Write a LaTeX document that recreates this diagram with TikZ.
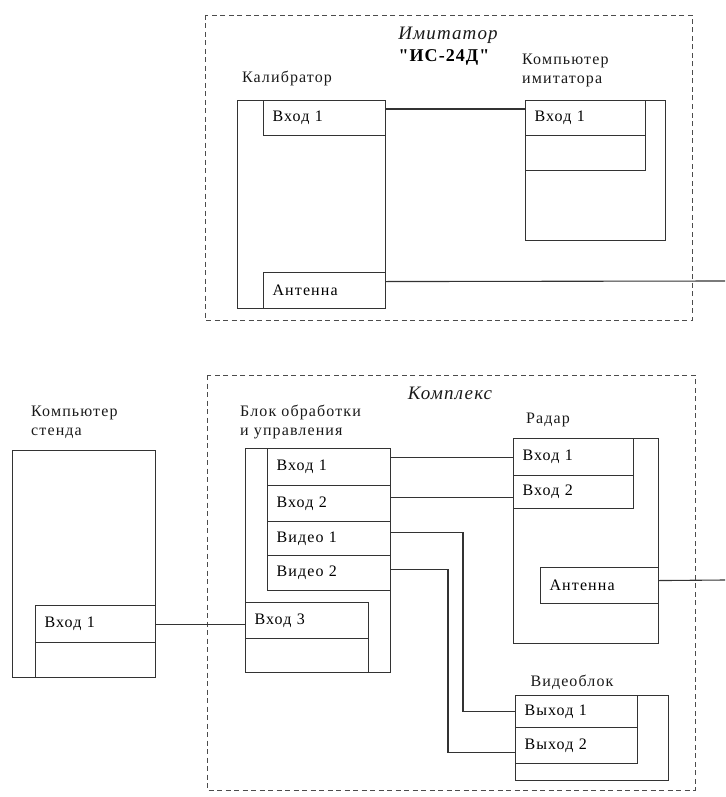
\documentclass[tikz,border=0pt]{standalone}
\usepackage{fontspec}
\setmainfont{Liberation Serif}[LetterSpace=7]
\newfontfamily\titlefont{Liberation Serif}[LetterSpace=6]
\begin{document}
\begin{tikzpicture}[x=1pt,y=-1pt,
  ln/.style={draw=black!80, line width=1.1pt},
  frame/.style 2 args={ln, anchor=north west, inner sep=0pt, minimum width=#1, minimum height=#2},
  cell/.style 2 args={ln, anchor=north west, inner ysep=0pt, inner xsep=9pt, text width=#1, minimum height=#2, align=left, font=\fontsize{16}{19}\selectfont},
  lbl/.style={inner sep=0pt, font=\fontsize{16}{19}\selectfont, text=black!90},
  ttl/.style={inner sep=0pt, font=\titlefont\fontsize{19}{22}\selectfont\itshape, text=black!90},
  grp/.style={draw=black!70, line width=0.9pt, dash pattern=on 5pt off 3.5pt}
]
\useasboundingbox (0,0) rectangle (725,797);

% group frames
\draw[grp] (205,15) rectangle (692,320);
\draw[grp] (207,375) rectangle (695,790);

% titles
\node[ttl] (imt) at (448,35) {Имитатор};
\node[inner sep=0pt, font=\titlefont\fontsize{18}{21}\selectfont\bfseries] (ics) at (444,57) {"ИС-24Д"};
\node[ttl] (kmp) at (450,393) {Комплекс};

% labels
\node[lbl] (calL) at (287,78) {Калибратор};
\node[lbl, align=left, anchor=west] (cimL) at (522,70) {Компьютер\\имитатора};
\node[lbl, align=left, anchor=west] (stL) at (31,422) {Компьютер\\стенда};
\node[lbl, align=left, anchor=west] (blL) at (240,422) {Блок обработки\\и управления};
\node[lbl] (radL) at (548,420) {Радар};
\node[lbl] (vbL) at (572,682) {Видеоблок};

% Calibrator
\node[frame={148}{208}] (cal) at (237,100) {};
\node[cell={104}{35}] (cin1) at (263,100) {Вход 1};
\node[cell={104}{36}] (cant) at (263,272) {Антенна};

% Computer of imitator
\node[frame={140}{140}] (cim) at (525,100) {};
\node[cell={102}{35}] (cimin1) at (525,100) {Вход 1};
\node[cell={102}{35}] (cim2) at (525,135) {};

% Stand computer
\node[frame={143}{227}] (st) at (12,450) {};
\node[cell={102}{37}] (sin1) at (35,605) {Вход 1};
\node[cell={102}{35}] (s2) at (35,642) {};

% Processing block
\node[frame={145}{224}] (bl) at (245,448) {};
\node[cell={105}{37}] (bin1) at (267,448) {Вход 1};
\node[cell={105}{36}] (bin2) at (267,485) {Вход 2};
\node[cell={105}{34}] (bv1) at (267,521) {Видео 1};
\node[cell={105}{35}] (bv2) at (267,555) {Видео 2};
\node[cell={105}{36}] (bin3) at (245,602) {Вход 3};
\node[cell={105}{34}] (b4) at (245,638) {};

% Radar
\node[frame={145}{205}] (rad) at (513,438) {};
\node[cell={102}{37}] (rin1) at (513,438) {Вход 1};
\node[cell={102}{33}] (rin2) at (513,475) {Вход 2};
\node[cell={100}{36}] (rant) at (540,567) {Антенна};

% Video block
\node[frame={153}{85}] (vb) at (515,695) {};
\node[cell={104}{32}] (vo1) at (515,695) {Выход 1};
\node[cell={104}{36}] (vo2) at (515,727) {Выход 2};

% free ends, ports and junction columns
\coordinate (e1) at (725,281);
\coordinate (e2) at (725,580);
\coordinate (j1) at (463,0);
\coordinate (j2) at (448,0);
\coordinate (vo2in) at ([yshift=-7pt]vo2.west);

% connections
\draw[ln] ([yshift=9pt]cin1.east) -- ([yshift=9pt]cin1.east -| cimin1.west);
\draw[ln] ([yshift=9pt]cant.east) -- (e1);
\draw[ln] (rin1.west -| bin1.east) -- (rin1.west);
\draw[ln] ([yshift=6pt]bin2.east) -- ([yshift=6pt]bin2.east -| rin2.west);
\draw[ln] ([yshift=6pt]bv1.east) -| (j1 |- vo1.west) -- (vo1.west);
\draw[ln] ([yshift=4pt]bv2.east) -| (j2 |- vo2in) -- (vo2in);
\draw[ln] (sin1.east) -- (sin1.east -| bin3.west);
\draw[ln] ([yshift=5pt]rant.east) -- (e2);
\end{tikzpicture}
\end{document}
